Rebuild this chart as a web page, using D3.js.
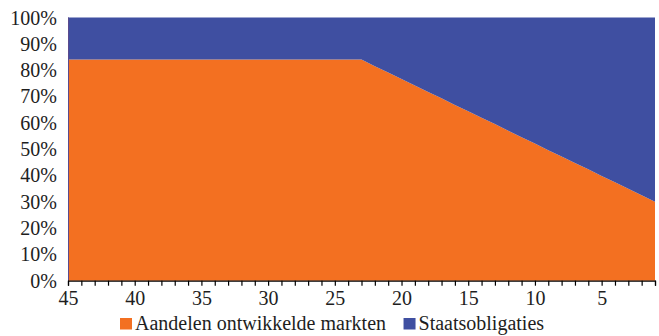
<!DOCTYPE html>
<html>
<head>
<meta charset="utf-8">
<script src="https://cdn.jsdelivr.net/npm/d3@7"></script>
<style>
  html, body { margin: 0; padding: 0; background: #fff; }
</style>
</head>
<body>
<svg id="chart" width="659" height="336"></svg>
<script>
// Years to retirement (x axis runs from 45 down to 1)
const years = [45, 44, 43, 42, 41, 40, 39, 38, 37, 36, 35, 34, 33, 32, 31, 30, 29, 28, 27, 26, 25, 24, 23,
               22, 21, 20, 19, 18, 17, 16, 15, 14, 13, 12, 11, 10, 9, 8, 7, 6, 5, 4, 3, 2, 1];

// Share of developed-market equities (%) per year
const aandelen = [84, 84, 84, 84, 84, 84, 84, 84, 84, 84, 84, 84, 84, 84, 84, 84, 84, 84, 84, 84, 84, 84, 84,
                  81.5, 79.1, 76.6, 74.2, 71.7, 69.3, 66.8, 64.4, 61.9, 59.5, 57.0, 54.5, 52.1, 49.6, 47.2,
                  44.7, 42.3, 39.8, 37.4, 34.9, 32.5, 30];

// Share of government bonds (%) per year
const staatsobligaties = [16, 16, 16, 16, 16, 16, 16, 16, 16, 16, 16, 16, 16, 16, 16, 16, 16, 16, 16, 16, 16, 16, 16,
                          18.5, 20.9, 23.4, 25.8, 28.3, 30.7, 33.2, 35.6, 38.1, 40.5, 43.0, 45.5, 47.9, 50.4, 52.8,
                          55.3, 57.7, 60.2, 62.6, 65.1, 67.5, 70];

const xTickLabels = [45, 40, 35, 30, 25, 20, 15, 10, 5];
const yTicks = [0, 10, 20, 30, 40, 50, 60, 70, 80, 90, 100];

const seriesNames = ["Aandelen ontwikkelde markten", "Staatsobligaties"];
const seriesColors = ["#F37021", "#3F4FA1"];

const FONT = "Liberation Serif";
const FS = 20;
const TEXT = "#1e1e1e";

const svg = d3.select("#chart");
const margin = { left: 68, right: 4, top: 17.5, bottom: 55.3 };
const W = 659, H = 336;

const x = d3.scaleLinear().domain([45, 1]).range([margin.left, W - margin.right]);
const y = d3.scaleLinear().domain([0, 100]).range([H - margin.bottom, margin.top]);

const table = years.map((yr, i) => ({ year: yr, a: aandelen[i], s: staatsobligaties[i] }));
const stacked = d3.stack().keys(["a", "s"])(table);

const area = d3.area()
  .x(d => x(d.data.year))
  .y0(d => y(d[0]))
  .y1(d => y(d[1]));

svg.append("g").selectAll("path")
  .data(stacked)
  .join("path")
  .attr("d", area)
  .attr("fill", (d, i) => seriesColors[i]);

// Left axis line
svg.append("line")
  .attr("x1", margin.left + 0.5).attr("x2", margin.left + 0.5)
  .attr("y1", y(100)).attr("y2", y(0))
  .attr("stroke", "#5b4a8e").attr("stroke-width", 1);

// Y axis labels
svg.append("g").selectAll("text")
  .data(yTicks)
  .join("text")
  .attr("x", 57)
  .attr("y", d => y(d))
  .attr("dy", "0.35em")
  .attr("text-anchor", "end")
  .attr("font-family", FONT)
  .attr("font-size", FS)
  .attr("fill", TEXT)
  .text(d => d + "%");

// X axis with a tick for every year
const xAxis = d3.axisBottom(x)
  .tickValues(years)
  .tickSize(5)
  .tickFormat(d => xTickLabels.includes(d) ? d : "");

const gx = svg.append("g")
  .attr("transform", `translate(0,${y(0)})`)
  .call(xAxis)
  .attr("font-family", FONT)
  .attr("font-size", FS);
gx.select(".domain").attr("stroke", "#000").attr("stroke-width", 1.2);
gx.selectAll(".tick line").attr("stroke", "#000").attr("stroke-width", 1.2);
gx.selectAll(".tick text")
  .attr("font-family", FONT)
  .attr("font-size", FS)
  .attr("fill", TEXT)
  .attr("dy", null)
  .attr("y", 24.6);

// Legend
const legend = svg.append("g").attr("transform", "translate(120,318)");
let lx = 0;
seriesNames.forEach((name, i) => {
  const g = legend.append("g").attr("transform", `translate(${lx},0)`);
  g.append("rect").attr("width", 12).attr("height", 11.5).attr("fill", seriesColors[i]);
  const t = g.append("text")
    .attr("x", 15).attr("y", 11.5)
    .attr("font-family", FONT)
    .attr("font-size", FS)
    .attr("fill", TEXT)
    .text(name);
  lx += 15 + t.node().getComputedTextLength() + 17.5;
});
</script>
</body>
</html>
